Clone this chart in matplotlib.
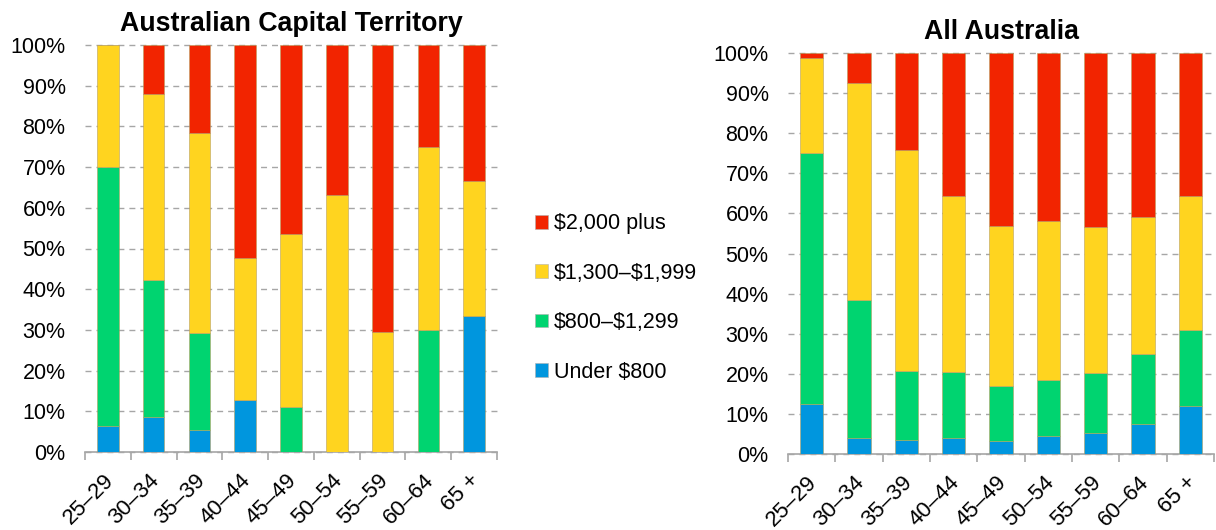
import matplotlib
matplotlib.use("Agg")
import matplotlib.pyplot as plt
import matplotlib.transforms as mtransforms
import numpy as np
from matplotlib.patches import Patch

plt.rcParams['font.family'] = ['Liberation Sans', 'DejaVu Sans']

age_groups = ["25–29", "30–34", "35–39", "40–44", "45–49", "50–54", "55–59", "60–64", "65 +"]
series_names = ["Under \\$800", "\\$800–\\$1,299", "\\$1,300–\\$1,999", "\\$2,000 plus"]
colors = ["#0096DE", "#00D470", "#FFD41F", "#F22400"]

# Australian Capital Territory (shares, %)
act_under800 = [6.5, 8.7, 5.4, 12.8, 0.0, 0.0, 0.0, 0.0, 33.3]
act_800_1299 = [63.5, 33.5, 23.8, 0.0, 11.1, 0.0, 0.0, 30.0, 0.0]
act_1300_1999 = [30.0, 45.8, 49.2, 34.8, 42.4, 63.1, 29.5, 45.0, 33.4]
act_2000plus = [0.0, 12.0, 21.6, 52.4, 46.5, 36.9, 70.5, 25.0, 33.3]

# All Australia (shares, %)
aus_under800 = [12.5, 4.1, 3.6, 4.1, 3.3, 4.6, 5.2, 7.6, 12.0]
aus_800_1299 = [62.6, 34.4, 17.2, 16.4, 13.7, 13.8, 14.9, 17.3, 18.8]
aus_1300_1999 = [23.7, 54.0, 54.9, 43.9, 39.8, 39.8, 36.5, 34.3, 33.5]
aus_2000plus = [1.2, 7.5, 24.3, 35.6, 43.2, 41.8, 43.4, 40.8, 35.7]

fig = plt.figure(figsize=(12.16, 5.30), dpi=100)

def draw(ax, data, title, width, title_pad):
    x = np.arange(len(age_groups))
    bottom = np.zeros(len(age_groups))
    for vals, c in zip(data, colors):
        v = np.array(vals) / 100.0
        ax.bar(x, v, width, bottom=bottom, color=c, edgecolor="#B8A060",
               linewidth=0.4, zorder=3)
        bottom += v
    ax.set_xlim(-0.5, len(age_groups) - 0.5)
    ax.set_ylim(0, 1)
    ax.set_yticks(np.linspace(0, 1, 11))
    ax.set_yticklabels([f"{int(round(t*100))}%" for t in np.linspace(0, 1, 11)])
    ax.yaxis.grid(True, color="#A6A6A6", linestyle=(0, (4.3, 3.6)), linewidth=1.0, zorder=0)
    for g in ax.get_ygridlines():
        g.set_clip_on(False)
    ax.set_axisbelow(True)
    ax.tick_params(axis="y", length=0, pad=14, labelsize=15.5)
    ax.set_xticks(x)
    ax.set_xticklabels(age_groups, rotation=45, ha="right", rotation_mode="anchor",
                       fontsize=16)
    ax.tick_params(axis="x", which="major", length=0, pad=13)
    offset = mtransforms.ScaledTranslation(-5/100, 0, fig.dpi_scale_trans)
    for lbl in ax.get_xticklabels():
        lbl.set_transform(lbl.get_transform() + offset)
    ax.set_xticks(np.arange(-0.5, len(age_groups)), minor=True)
    ax.tick_params(axis="x", which="minor", length=6, color="#A6A6A6", width=1.2)
    for s in ["top", "right", "left"]:
        ax.spines[s].set_visible(False)
    ax.spines["bottom"].set_color("#A6A6A6")
    ax.spines["bottom"].set_linewidth(1.2)
    ax.set_title(title, fontsize=19.3, fontweight="bold", pad=title_pad)

ax1 = fig.add_axes([85/1216, 1 - 452/530, 412/1216, 407/530])
draw(ax1, [act_under800, act_800_1299, act_1300_1999, act_2000plus],
     "Australian Capital Territory", 0.47, 10)

ax2 = fig.add_axes([788/1216, 1 - 454/530, 426/1216, 401/530])
draw(ax2, [aus_under800, aus_800_1299, aus_1300_1999, aus_2000plus],
     "All Australia", 0.49, 10)

handles = [Patch(facecolor=c, edgecolor="#B0B0B0", linewidth=0.4) for c in colors[::-1]]
fig.legend(handles, series_names[::-1], loc="center left",
           bbox_to_anchor=(526/1216, 1 - 298/530), frameon=False, fontsize=15.5,
           handlelength=0.6, handleheight=0.6, handletextpad=0.3, labelspacing=1.32,
           borderaxespad=0)

fig.savefig("out.png", dpi=100)
